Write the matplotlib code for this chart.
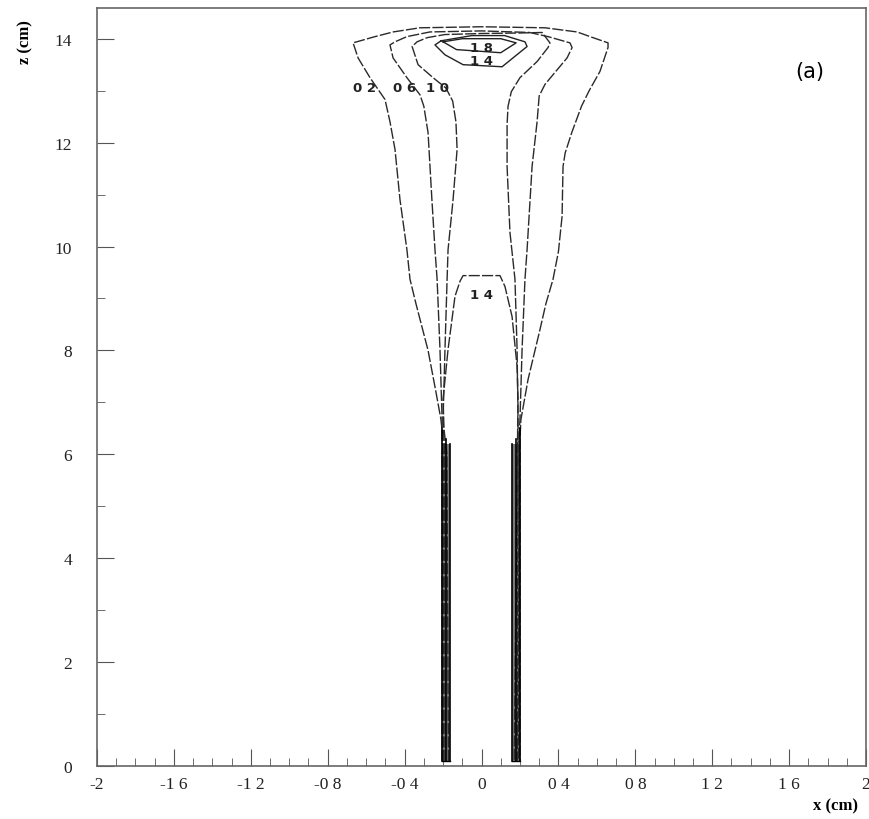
import matplotlib.pyplot as plt
from matplotlib.ticker import MultipleLocator, FixedLocator

# Contour lines: (x in cm, z in cm)
c02_x = [-0.205, -0.205, -0.200, -0.211, -0.237, -0.278, -0.341, -0.372, -0.388, -0.424, -0.450, -0.476,
         -0.502, -0.580, -0.642, -0.668, -0.554, -0.460, -0.320, 0.0, 0.330, 0.497, 0.580, 0.658, 0.658,
         0.616, 0.560, 0.520, 0.470, 0.435, 0.424, 0.419, 0.400, 0.372, 0.335, 0.304, 0.242, 0.205,
         0.200, 0.200]
c02_z = [0.10, 6.00, 6.29, 6.67, 7.20, 8.00, 8.90, 9.37, 9.94, 10.90, 11.87, 12.40,
         12.83, 13.25, 13.63, 13.92, 14.04, 14.13, 14.21, 14.23, 14.21, 14.13, 14.02, 13.92, 13.83,
         13.37, 13.00, 12.70, 12.20, 11.80, 11.54, 10.58, 9.90, 9.37, 8.90, 8.40, 7.44, 6.67,
         6.29, 0.10]

c06_x = [-0.198, -0.198, -0.205, -0.205, -0.216, -0.231, -0.242, -0.258, -0.278, -0.300, -0.320, -0.388,
         -0.460, -0.476, -0.450, -0.388, -0.268, 0.0, 0.250, 0.346, 0.460, 0.471, 0.445, 0.393, 0.330,
         0.300, 0.289, 0.263, 0.237, 0.226, 0.211, 0.200, 0.195, 0.193]
c06_z = [0.10, 6.00, 6.29, 6.67, 8.02, 9.37, 9.94, 10.90, 12.19, 12.70, 12.92, 13.25,
         13.63, 13.88, 13.94, 14.04, 14.13, 14.15, 14.12, 14.04, 13.92, 13.83, 13.63, 13.40, 13.12,
         12.90, 12.40, 11.54, 9.94, 9.37, 8.02, 6.67, 6.29, 0.10]

c10_x = [-0.190, -0.192, -0.195, -0.200, -0.190, -0.179, -0.174, -0.148, -0.127, -0.133, -0.150, -0.185,
         -0.252, -0.330, -0.361, -0.335, -0.283, -0.190, 0.0, 0.200, 0.315, 0.356, 0.346, 0.289, 0.200,
         0.155, 0.138, 0.133, 0.133, 0.148, 0.174, 0.185, 0.190, 0.190, 0.186]
c10_z = [0.10, 6.00, 6.29, 6.67, 8.02, 9.37, 9.94, 10.90, 11.87, 12.40, 12.80, 13.05,
         13.25, 13.50, 13.85, 13.94, 14.02, 14.08, 14.10, 14.11, 14.12, 13.92, 13.83, 13.56, 13.25,
         12.98, 12.70, 12.35, 11.54, 10.27, 9.37, 8.02, 6.67, 6.29, 0.10]

c14_low_x = [-0.172, -0.180, -0.195, -0.200, -0.174, -0.138, -0.112, -0.096, 0.096, 0.122, 0.159,
             0.185, 0.190, 0.188, 0.170]
c14_low_z = [0.10, 6.00, 6.48, 7.06, 8.02, 9.04, 9.33, 9.44, 9.44, 9.23, 8.65,
             7.69, 7.06, 6.48, 0.10]

c14_top_x = [-0.210, -0.242, -0.190, -0.096, 0.107, 0.237, 0.226, 0.120, -0.050, -0.210]
c14_top_z = [13.96, 13.88, 13.69, 13.50, 13.46, 13.85, 13.94, 14.06, 14.06, 13.96]

c18_x = [-0.200, -0.130, 0.100, 0.180, 0.100, -0.100, -0.200]
c18_z = [13.94, 13.79, 13.73, 13.92, 14.00, 14.00, 13.94]

# wall edges (dense bundle of contours)
wall_x = [-0.207, -0.185, -0.164, 0.158, 0.178, 0.202]
wall_top = [6.5, 6.3, 6.2, 6.2, 6.3, 6.5]

# contour labels
lab_text = ['0 2', '0 6', '1 0', '1 8', '1 4', '1 4']
lab_x = [-0.606, -0.398, -0.231, 0.0, 0.0, 0.0]
lab_z = [13.06, 13.06, 13.06, 13.84, 13.58, 9.08]

xticks = [-2, -1.6, -1.2, -0.8, -0.4, 0, 0.4, 0.8, 1.2, 1.6, 2]
xtick_labels = ['-2', '-1 6', '-1 2', '-0 8', '-0 4', '0', '0 4', '0 8', '1 2', '1 6', '2']
yticks = [0, 2, 4, 6, 8, 10, 12, 14]

fig = plt.figure(figsize=(8.69, 8.20), dpi=100)
ax = fig.add_axes([0.1116, 0.0646, 0.885, 0.925])

line_kw = dict(color='#2a2a2a', linewidth=1.0, dashes=(8, 1.6))
ax.plot(c02_x, c02_z, **line_kw)
ax.plot(c06_x, c06_z, **line_kw)
ax.plot(c10_x, c10_z, **line_kw)
ax.plot(c14_low_x, c14_low_z, **line_kw)
ax.plot(c14_top_x, c14_top_z, color='#222222', linewidth=1.0)
ax.plot(c18_x, c18_z, color='#222222', linewidth=1.0)

# dark walls
ax.fill_betweenx([0.1, 6.2], wall_x[0], wall_x[2], color='#7a7a7a', linewidth=0)
ax.fill_betweenx([0.1, 6.2], wall_x[3], wall_x[5], color='#7a7a7a', linewidth=0)
for wx, wt in zip(wall_x, wall_top):
    ax.plot([wx, wx], [0.1, wt], color='black', linewidth=1.2)
ax.plot([wall_x[0], wall_x[2]], [0.1, 0.1], color='black', linewidth=1.0)
ax.plot([wall_x[3], wall_x[5]], [0.1, 0.1], color='black', linewidth=1.0)

for t, x, z in zip(lab_text, lab_x, lab_z):
    ax.text(x, z, t, ha='center', va='center', fontsize=9.5, fontweight='bold',
            family='DejaVu Sans', color='#222222')

ax.text(1.709, 13.37, '(a)', ha='center', va='center', fontsize=15, family='DejaVu Sans')

ax.set_xlim(-2, 2)
ax.set_ylim(0, 14.6)
ax.xaxis.set_major_locator(FixedLocator(xticks))
ax.set_xticklabels(xtick_labels)
ax.xaxis.set_minor_locator(MultipleLocator(0.1))
ax.yaxis.set_major_locator(FixedLocator(yticks))
ax.yaxis.set_minor_locator(MultipleLocator(1))
ax.tick_params(axis='both', which='both', direction='in', colors='#555555',
               labelcolor='#222222', labelsize=12.5)
ax.tick_params(axis='x', which='major', length=12, pad=7)
ax.tick_params(axis='x', which='minor', length=6)
ax.tick_params(axis='y', which='major', length=12, pad=18)
ax.tick_params(axis='y', which='minor', length=6)
for lbl in ax.get_xticklabels() + ax.get_yticklabels():
    lbl.set_family('Liberation Serif')

for s in ax.spines.values():
    s.set_color('#666666')
    s.set_linewidth(1.2)

fig.text(0.029, 0.949, 'z (cm)', rotation=90, ha='center', va='center',
         fontsize=12, fontweight='bold', family='Liberation Serif')
fig.text(0.961, 0.017, 'x (cm)', ha='center', va='center',
         fontsize=12, fontweight='bold', family='Liberation Serif')

fig.savefig('out.png', dpi=100)
